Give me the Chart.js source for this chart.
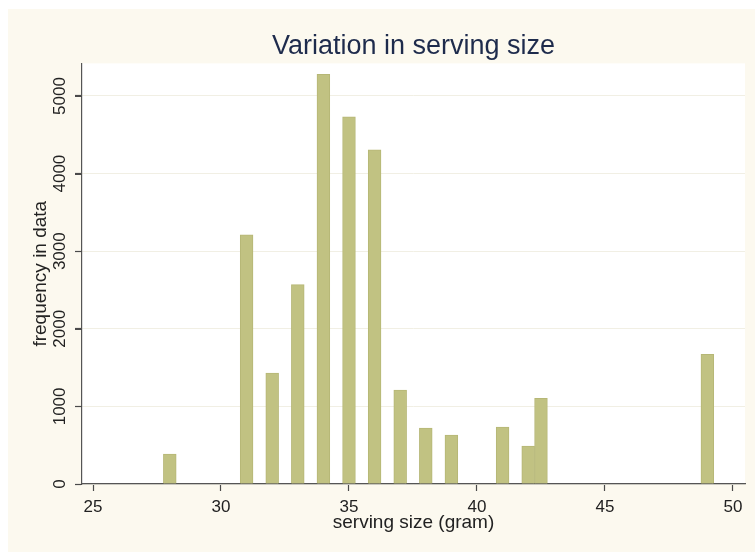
<!DOCTYPE html>
<html lang="en">
<head>
    <meta charset="UTF-8">
    <title>Variation in serving size</title>
    <script src="https://cdn.jsdelivr.net/npm/chart.js"></script>
    <style>
        body { margin: 0; background: #fff; font-family: "Liberation Sans", Arial, sans-serif; }
        .frame { position: absolute; left: 8px; top: 9px; width: 747px; height: 543px; background: #fcf9ef; }
    </style>
</head>
<body>
    <div class="frame">
        <canvas id="servingChart"></canvas>
    </div>

    <script>
        // serving size (gram) and how often it shows up
        const servingSizes = [28, 31, 32, 33, 34, 35, 36, 37, 38, 39, 41, 42, 42.5, 49];
        const frequencies = [385, 3210, 1430, 2570, 5280, 4730, 4305, 1210, 720, 630, 735, 490, 1105, 1670];
        const xTicks = [25, 30, 35, 40, 45, 50];
        const yTicks = [0, 1000, 2000, 3000, 4000, 5000];

        const points = servingSizes.map((s, i) => ({ x: s, y: frequencies[i] }));

        // white plot region on the cream frame
        const plotBackground = {
            id: 'plotBackground',
            beforeDraw(chart) {
                const { ctx, chartArea: a } = chart;
                ctx.save();
                ctx.fillStyle = '#ffffff';
                ctx.fillRect(a.left, a.top, a.right - a.left, a.bottom - a.top);
                ctx.restore();
            }
        };

        // small tick marks left of the y axis (the rotated labels hide chart.js' own)
        const yTickMarks = {
            id: 'yTickMarks',
            afterDraw(chart) {
                const { ctx, chartArea: a } = chart;
                const scale = chart.scales.y;
                ctx.save();
                ctx.strokeStyle = '#4a4a4a';
                ctx.lineWidth = 1.2;
                ctx.beginPath();
                yTicks.forEach(v => {
                    const py = Math.round(scale.getPixelForValue(v)) + 0.5;
                    ctx.moveTo(a.left - 7, py);
                    ctx.lineTo(a.left, py);
                });
                ctx.stroke();
                ctx.restore();
            }
        };

        const font = size => ({ family: '"Liberation Sans", Arial, sans-serif', size: size });

        const ctx = document.getElementById('servingChart').getContext('2d');
        new Chart(ctx, {
            type: 'bar',
            data: {
                datasets: [{
                    data: points,
                    backgroundColor: '#c1c282',
                    borderColor: '#b6b776',
                    borderWidth: 1,
                    barPercentage: 1,
                    categoryPercentage: 1
                }]
            },
            options: {
                responsive: true,
                maintainAspectRatio: false,
                animation: false,
                layout: { padding: { top: 0, right: 10, bottom: 0, left: 0 } },
                plugins: {
                    legend: { display: false },
                    tooltip: { enabled: false },
                    title: {
                        display: true,
                        fullSize: false,
                        text: 'Variation in serving size',
                        color: '#1e2b4c',
                        font: { family: '"Liberation Sans", Arial, sans-serif', size: 27, weight: 'normal' },
                        padding: { top: 21, bottom: 1 }
                    }
                },
                scales: {
                    x: {
                        type: 'linear',
                        offset: false,
                        min: 24.57,
                        max: 50.47,
                        afterBuildTicks(scale) { scale.ticks = xTicks.map(v => ({ value: v })); },
                        afterFit(scale) { scale.height = 68; },
                        ticks: { color: '#222', font: font(17), padding: 6, maxRotation: 0, callback: v => String(v) },
                        grid: { offset: false, drawOnChartArea: false, tickLength: 7, tickColor: '#4a4a4a', tickWidth: 1.2 },
                        border: { color: '#555', width: 1.2 },
                        title: { display: true, text: 'serving size (gram)', color: '#222', font: font(19), padding: 18 }
                    },
                    y: {
                        min: 0,
                        max: 5420,
                        afterBuildTicks(scale) { scale.ticks = yTicks.map(v => ({ value: v })); },
                        afterFit(scale) { scale.width = 74; },
                        ticks: {
                            color: '#222', font: font(17), minRotation: 90, maxRotation: 90,
                            crossAlign: 'center', padding: -4, callback: v => String(v)
                        },
                        grid: { color: '#f1efe4', tickLength: 7, tickColor: '#4a4a4a', tickWidth: 1.2 },
                        border: { color: '#555', width: 1.2 },
                        title: { display: true, text: 'frequency in data', color: '#222', font: font(19), padding: 21 }
                    }
                }
            },
            plugins: [plotBackground, yTickMarks]
        });
    </script>
</body>
</html>
